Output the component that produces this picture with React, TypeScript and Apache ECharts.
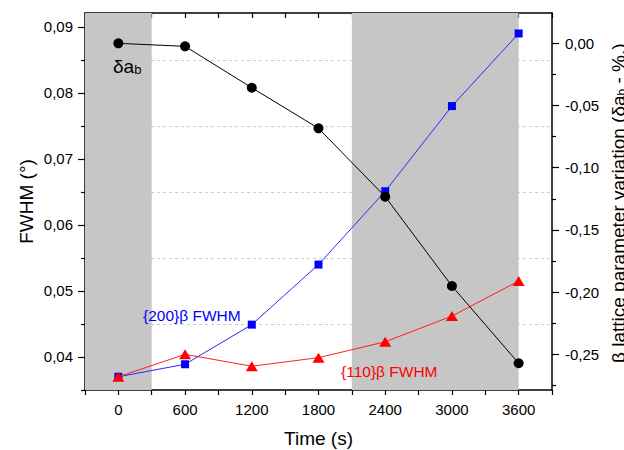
import React, { useEffect, useRef } from 'react';
import * as echarts from 'echarts';

// Annealing time (s) and the measured quantities
const times = [0, 600, 1200, 1800, 2400, 3000, 3600];
const fwhm200 = [0.037, 0.0389, 0.0449, 0.054, 0.0651, 0.078, 0.089];
const fwhm110 = [0.037, 0.0404, 0.0386, 0.0399, 0.0423, 0.0462, 0.0515];
const deltaAb = [0.0, -0.0024, -0.0357, -0.0683, -0.1233, -0.1951, -0.2572];

// Shaded time windows
const shadedSpans = [
  [-300, 300],
  [2100, 3600],
];

// Tick values
const timeLabels = [0, 600, 1200, 1800, 2400, 3000, 3600];
const fwhmTicks = [0.04, 0.05, 0.06, 0.07, 0.08, 0.09];
const fwhmMinorTicks = [0.035, 0.045, 0.055, 0.065, 0.075, 0.085];
const fwhmGuides = [0.045, 0.055, 0.065, 0.075, 0.085];
const latticeTicks = [-0.25, -0.2, -0.15, -0.1, -0.05, 0];
const latticeMinorTicks = [-0.275, -0.225, -0.175, -0.125, -0.075, -0.025];

const FONT = '"Liberation Sans", Arial, sans-serif';
const comma = (v: number) => v.toFixed(2).replace('.', ',');

export default function App() {
  const ref = useRef<HTMLDivElement>(null);

  useEffect(() => {
    if (!ref.current) return;
    const chart = echarts.init(ref.current, null, { renderer: 'svg' });

    const axisLine = { show: true, onZero: false, lineStyle: { color: '#000', width: 1.5 } };

    chart.setOption({
      animation: false,
      backgroundColor: '#fff',
      grid: { left: 85, right: 72, top: 13, bottom: 60, containLabel: false, outerBoundsMode: 'none' },
      xAxis: [
        {
          type: 'value',
          position: 'bottom',
          min: -300,
          max: 3900,
          interval: 300,
          axisLine,
          axisTick: { show: true, inside: false, length: 5, lineStyle: { color: '#000', width: 1.2 } },
          axisLabel: {
            margin: 12,
            color: '#000',
            fontFamily: FONT,
            fontSize: 15,
            formatter: (v: number) => (timeLabels.includes(v) ? String(v) : ''),
          },
          splitLine: { show: false },
        },
        {
          type: 'value',
          position: 'top',
          min: -300,
          max: 3900,
          interval: 300,
          axisLine,
          axisTick: { show: true, inside: true, length: 5, lineStyle: { color: '#000', width: 1.2 } },
          axisLabel: { show: false },
          splitLine: { show: false },
        },
      ],
      yAxis: [
        {
          type: 'value',
          position: 'left',
          min: 0.035,
          max: 0.0921,
          axisLine,
          axisTick: { show: true, length: 7, customValues: fwhmTicks, lineStyle: { color: '#000', width: 1.2 } },
          axisLabel: {
            customValues: fwhmTicks,
            margin: 12,
            color: '#000',
            fontFamily: FONT,
            fontSize: 15,
            formatter: comma,
          },
          splitLine: { show: false },
        },
        {
          type: 'value',
          position: 'right',
          min: -0.2787,
          max: 0.0244,
          axisLine,
          axisTick: { show: true, length: 7, customValues: latticeTicks, lineStyle: { color: '#000', width: 1.2 } },
          axisLabel: {
            customValues: latticeTicks,
            margin: 13,
            color: '#000',
            fontFamily: FONT,
            fontSize: 15,
            formatter: comma,
          },
          splitLine: { show: false },
        },
        {
          // minor ticks of the FWHM scale
          type: 'value',
          position: 'left',
          min: 0.035,
          max: 0.0921,
          axisLine: { show: false, onZero: false },
          axisTick: { show: true, length: 4, customValues: fwhmMinorTicks, lineStyle: { color: '#000', width: 1.2 } },
          axisLabel: { show: false },
          splitLine: { show: false },
        },
        {
          // minor ticks of the lattice scale
          type: 'value',
          position: 'right',
          min: -0.2787,
          max: 0.0244,
          axisLine: { show: false, onZero: false },
          axisTick: { show: true, length: 4, customValues: latticeMinorTicks, lineStyle: { color: '#000', width: 1.2 } },
          axisLabel: { show: false },
          splitLine: { show: false },
        },
      ],
      series: [
        {
          // dashed guide lines, below the shading
          type: 'line',
          name: 'guides',
          xAxisIndex: 0,
          yAxisIndex: 0,
          data: [],
          z: 0,
          silent: true,
          markLine: {
            silent: true,
            z: 0,
            precision: 4,
            symbol: ['none', 'none'],
            label: { show: false },
            lineStyle: { color: '#cccccc', width: 1, type: [3, 3] },
            data: fwhmGuides.map((v) => ({ yAxis: v })),
          },
        },
        {
          type: 'line',
          name: 'shading',
          xAxisIndex: 0,
          yAxisIndex: 0,
          data: [],
          z: 1,
          silent: true,
          markArea: {
            silent: true,
            z: 1,
            itemStyle: { color: '#c6c6c6' },
            data: shadedSpans.map(([a, b]) => [{ xAxis: a }, { xAxis: b }]),
          },
        },
        {
          type: 'line',
          name: '{200}β FWHM',
          xAxisIndex: 0,
          yAxisIndex: 0,
          z: 3,
          data: times.map((t, i) => [t, fwhm200[i]]),
          symbol: 'rect',
          symbolSize: 8,
          itemStyle: { color: '#0000ff' },
          lineStyle: { color: '#2a2aff', width: 1 },
        },
        {
          type: 'line',
          name: '{110}β FWHM',
          xAxisIndex: 0,
          yAxisIndex: 0,
          z: 4,
          data: times.map((t, i) => [t, fwhm110[i]]),
          symbol: 'triangle',
          symbolSize: [12, 10],
          itemStyle: { color: '#ff0000' },
          lineStyle: { color: '#ff2020', width: 1 },
        },
        {
          type: 'line',
          name: 'δab',
          xAxisIndex: 0,
          yAxisIndex: 1,
          z: 5,
          data: times.map((t, i) => [t, deltaAb[i]]),
          symbol: 'circle',
          symbolSize: 10,
          itemStyle: { color: '#000' },
          lineStyle: { color: '#000', width: 1 },
        },
      ],
      graphic: [
        {
          type: 'text',
          z: 100,
          x: 26,
          y: 201.5,
          rotation: Math.PI / 2,
          style: { text: 'FWHM (°)', font: `19px ${FONT}`, fill: '#000', align: 'center', verticalAlign: 'middle' },
        },
        {
          type: 'text',
          z: 100,
          x: 618,
          y: 363,
          rotation: Math.PI / 2,
          style: {
            text: 'β lattice parameter variation (δa{sub|b} - %.)',
            font: `19px ${FONT}`,
            fill: '#000',
            align: 'left',
            verticalAlign: 'middle',
            rich: { sub: { fontSize: 12, fontFamily: FONT, lineHeight: 8, verticalAlign: 'bottom' } },
          },
        },
        {
          type: 'text',
          z: 100,
          x: 318.5,
          y: 438,
          style: { text: 'Time (s)', font: `19px ${FONT}`, fill: '#000', align: 'center', verticalAlign: 'middle' },
        },
        {
          type: 'text',
          z: 100,
          x: 113,
          y: 66,
          style: {
            text: 'δa{sub|b}',
            font: `19px ${FONT}`,
            fill: '#000',
            align: 'left',
            verticalAlign: 'middle',
            rich: { sub: { fontSize: 13, fontFamily: FONT, lineHeight: 8, verticalAlign: 'bottom' } },
          },
        },
        {
          type: 'text',
          z: 100,
          x: 143,
          y: 315,
          style: { text: '{200}β FWHM', font: `15.5px ${FONT}`, fill: '#0000ff', align: 'left', verticalAlign: 'middle' },
        },
        {
          type: 'text',
          z: 100,
          x: 341,
          y: 371,
          style: { text: '{110}β FWHM', font: `15.5px ${FONT}`, fill: '#ff0000', align: 'left', verticalAlign: 'middle' },
        },
      ],
    });

    return () => chart.dispose();
  }, []);

  return (
    <div
      ref={ref}
      style={{ position: 'fixed', left: 0, top: 0, width: 624, height: 450, background: '#fff' }}
    />
  );
}
